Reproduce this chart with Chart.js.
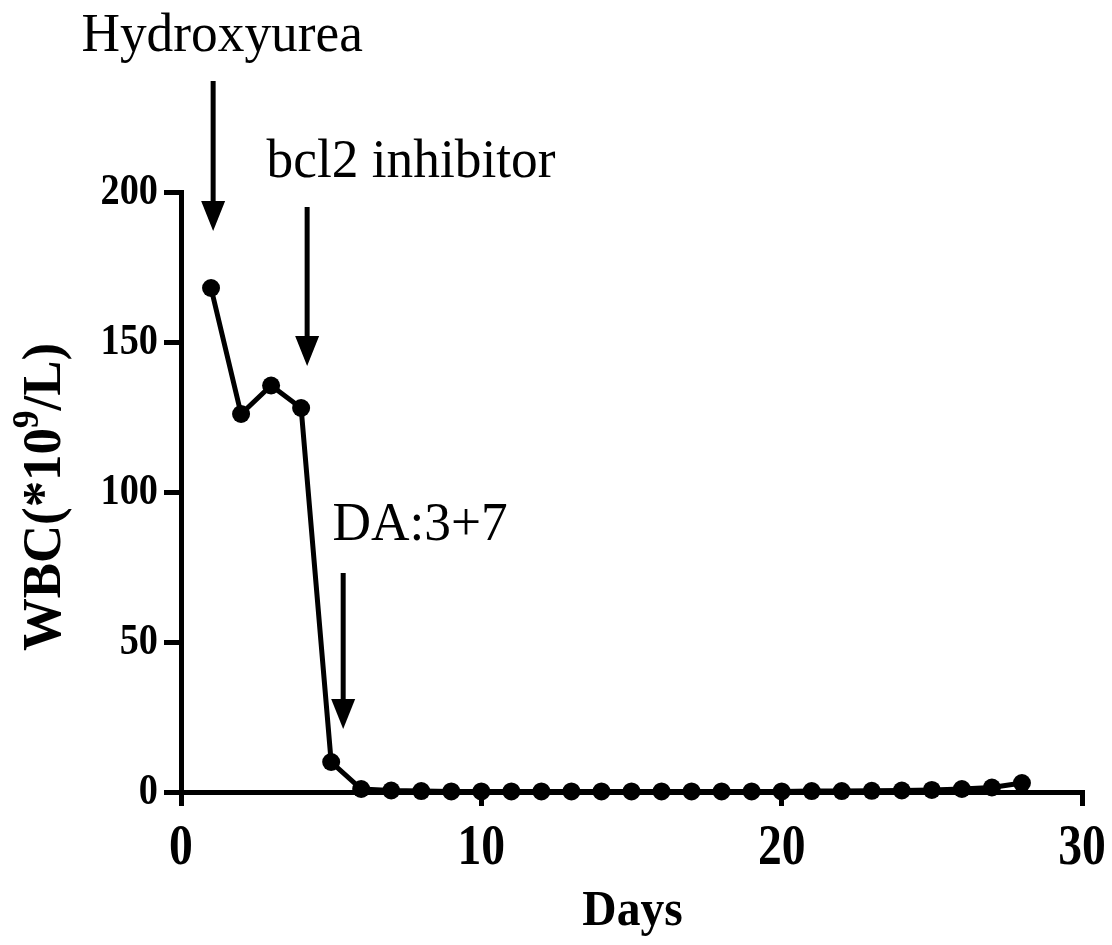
<!DOCTYPE html>
<html>
<head>
<meta charset="utf-8">
<script src="https://cdn.jsdelivr.net/npm/chart.js@4"></script>
<style>
  html, body { margin: 0; padding: 0; background: #fff; }
  #wrap { width: 1112px; height: 945px; }
</style>
</head>
<body>
<div id="wrap"><canvas id="myChart" width="1112" height="945"></canvas></div>
<script>
// Data
const days = [1, 2, 3, 4, 5, 6, 7, 8, 9, 10, 11, 12, 13, 14, 15, 16, 17, 18, 19, 20, 21, 22, 23, 24, 25, 26, 27, 28];
const wbc = [168, 126, 135.5, 128, 10, 1, 0.5, 0.3, 0.2, 0.2, 0.2, 0.2, 0.2, 0.2, 0.2, 0.2, 0.2, 0.2, 0.2, 0.2, 0.3, 0.3, 0.4, 0.5, 0.7, 1, 1.5, 3];
const xTicks = [0, 10, 20, 30];
const yTicks = [0, 50, 100, 150, 200];
const xTitle = 'Days';

// Treatment labels and where the arrows point (data units)
const treatLabels = ['Hydroxyurea', 'bcl2 inhibitor', 'DA:3+7'];
const arrowDays = [1.07, 4.2, 5.4];
const arrowTops = [237, 195, 73];
const arrowTips = [187, 142, 21];
const labelDays = [1.37, 7.66, 7.96];
const labelVals = [247, 205, 84];

const serif = '"Liberation Serif", "Times New Roman", serif';

// text squeezed sideways, like the original figure
function squeezed(c, text, x, y, sx, align) {
  c.save();
  c.translate(x, y);
  c.scale(sx, 1);
  c.textAlign = align;
  c.fillText(text, 0, 0);
  c.restore();
}

// draws tick labels, arrows, labels and the axis titles
const annotations = {
  id: 'annotations',
  afterDraw(chart) {
    const c = chart.ctx;
    const xs = chart.scales.x, ys = chart.scales.y;
    c.save();
    c.fillStyle = '#000';
    c.strokeStyle = '#000';

    // tick labels
    c.textBaseline = 'middle';
    c.font = 'bold 58px ' + serif;
    xTicks.forEach(v => squeezed(c, String(v), xs.getPixelForValue(v), 849, 0.82, 'center'));
    c.font = 'bold 44px ' + serif;
    yTicks.forEach(v => squeezed(c, String(v), 158, ys.getPixelForValue(v) + 1, 0.87, 'right'));

    // x title
    c.textBaseline = 'alphabetic';
    c.font = 'bold 50px ' + serif;
    squeezed(c, xTitle, (xs.left + xs.right) / 2 + 1, 925, 0.95, 'center');

    // arrows and treatment labels
    treatLabels.forEach((lab, i) => {
      const x = xs.getPixelForValue(arrowDays[i]);
      const top = ys.getPixelForValue(arrowTops[i]);
      const tip = ys.getPixelForValue(arrowTips[i]);
      c.lineWidth = 5;
      c.beginPath();
      c.moveTo(x, top);
      c.lineTo(x, tip - 25);
      c.stroke();
      c.beginPath();
      c.moveTo(x - 12, tip - 30);
      c.lineTo(x + 12, tip - 30);
      c.lineTo(x, tip);
      c.closePath();
      c.fill();

      c.font = '55px ' + serif;
      squeezed(c, lab, xs.getPixelForValue(labelDays[i]), ys.getPixelForValue(labelVals[i]), 0.97, 'center');
    });

    // y axis title with superscript
    c.translate(60, 497);
    c.rotate(-Math.PI / 2);
    c.scale(0.96, 1);
    c.textAlign = 'left';
    const big = 'bold 55px ' + serif, small = 'bold 37px ' + serif;
    c.font = big;
    const p1 = 'WBC(*10', p2 = '/L)';
    const w1 = c.measureText(p1).width, w3 = c.measureText(p2).width;
    c.font = small;
    const w2 = c.measureText('9').width;
    const x0 = -(w1 + w2 + w3) / 2;
    c.font = big;
    c.fillText(p1, x0, 0);
    c.font = small;
    c.fillText('9', x0 + w1, -22);
    c.font = big;
    c.fillText(p2, x0 + w1 + w2, 0);
    c.restore();
  }
};

const ctx = document.getElementById('myChart').getContext('2d');
const chart = new Chart(ctx, {
  type: 'line',
  data: {
    datasets: [{
      data: days.map((d, i) => ({ x: d, y: wbc[i] })),
      borderColor: '#000',
      backgroundColor: '#000',
      borderWidth: 5,
      pointRadius: 9,
      pointBorderWidth: 0,
      tension: 0,
      clip: false
    }]
  },
  options: {
    responsive: false,
    animation: false,
    layout: { padding: { top: 192, right: 30, left: 0, bottom: 0 } },
    plugins: { legend: { display: false }, tooltip: { enabled: false } },
    scales: {
      x: {
        type: 'linear',
        min: 0, max: 30,
        afterBuildTicks: s => { s.ticks = xTicks.map(v => ({ value: v })); },
        afterFit: s => { s.height = 153; },
        border: { color: '#000', width: 5 },
        grid: { drawOnChartArea: false, color: '#000', tickLength: 14, lineWidth: 5 },
        ticks: { color: 'rgba(0,0,0,0)', font: { family: serif, size: 20 }, maxRotation: 0 }
      },
      y: {
        min: 0, max: 200,
        afterBuildTicks: s => { s.ticks = yTicks.map(v => ({ value: v })); },
        afterFit: s => { s.width = 181; },
        border: { color: '#000', width: 5 },
        grid: { drawOnChartArea: false, color: '#000', tickLength: 17, lineWidth: 5 },
        ticks: { color: 'rgba(0,0,0,0)', font: { family: serif, size: 20 } }
      }
    }
  },
  plugins: [annotations]
});
</script>
</body>
</html>
